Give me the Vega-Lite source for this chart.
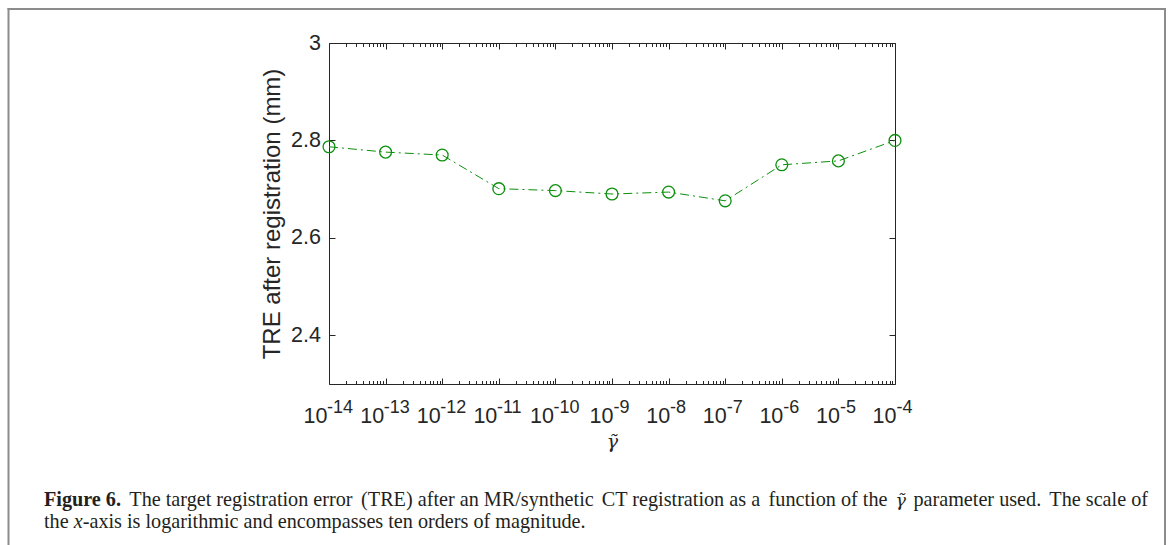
{
  "$schema": "https://vega.github.io/schema/vega-lite/v6.json",
  "width": 566,
  "height": 341,
  "autosize": {"type": "none"},
  "padding": {"left": 329, "top": 43, "right": 276, "bottom": 161},
  "background": "white",
  "config": {
    "view": {"stroke": "#262626", "strokeWidth": 1},
    "axis": {
      "grid": false,
      "domain": false,
      "labelColor": "#262626",
      "titleColor": "#262626",
      "tickColor": "#262626",
      "tickWidth": 1,
      "labelFont": "Liberation Sans",
      "titleFont": "Liberation Sans",
      "labelFlush": false,
      "labelOverlap": false,
      "labelBound": false
    },
    "text": {"font": "Liberation Serif", "fontSize": 20.2, "color": "#231f20", "align": "left", "baseline": "alphabetic"}
  },
  "data": {
    "values": [
      {"gamma": 1e-14, "tre": 2.787},
      {"gamma": 1e-13, "tre": 2.776},
      {"gamma": 1e-12, "tre": 2.770},
      {"gamma": 1e-11, "tre": 2.701},
      {"gamma": 1e-10, "tre": 2.697},
      {"gamma": 1e-9, "tre": 2.690},
      {"gamma": 1e-8, "tre": 2.694},
      {"gamma": 1e-7, "tre": 2.676},
      {"gamma": 1e-6, "tre": 2.750},
      {"gamma": 1e-5, "tre": 2.758},
      {"gamma": 1e-4, "tre": 2.800}
    ]
  },
  "layer": [
    {
      "mark": {"type": "line", "color": "#0c8f0c", "strokeWidth": 1, "strokeDash": [9, 4, 2, 4]},
      "encoding": {
        "x": {
          "field": "gamma", "type": "quantitative",
          "scale": {"type": "log", "domain": [1e-14, 1e-4], "nice": false},
          "axis": {
            "orient": "bottom",
            "values": [1e-14, 1e-13, 1e-12, 1e-11, 1e-10, 1e-9, 1e-8, 1e-7, 1e-6, 1e-5, 1e-4],
            "labelExpr": "'10'",
            "ticks": false, "tickSize": 0,
            "labelFontSize": 21.5,
            "labelAlign": "right",
            "labelBaseline": "alphabetic",
            "labelPadding": 38,
            "labelOffset": {"condition": {"test": "datum.value < 5e-10", "value": -2}, "value": 1},
            "title": "γ̃",
            "titleFont": "DejaVu Serif",
            "titleFontStyle": "italic",
            "titleFontWeight": "normal",
            "titleFontSize": 19,
            "titleX": 283,
            "titleY": 63,
            "titleBaseline": "alphabetic",
            "titleAlign": "center"
          }
        },
        "y": {
          "field": "tre", "type": "quantitative",
          "scale": {"domain": [2.3, 3], "nice": false, "zero": false},
          "axis": {
            "orient": "left",
            "values": [2.4, 2.6, 2.8, 3],
            "format": "~g",
            "ticks": false, "tickSize": 0,
            "labelFontSize": 21.5,
            "labelPadding": 8.5,
            "labelBaseline": "middle",
            "title": "TRE after registration (mm)",
            "titleFontSize": 24,
            "titleFontWeight": "normal",
            "titleAngle": 270,
            "titleX": -50,
            "titleY": 170.5,
            "titleBaseline": "alphabetic",
            "titleAlign": "center"
          }
        }
      }
    },
    {
      "mark": {"type": "point", "shape": "circle", "filled": false, "size": 140, "strokeWidth": 1.3, "color": "#0c8f0c", "opacity": 1},
      "encoding": {
        "x": {
          "field": "gamma", "type": "quantitative",
          "scale": {"type": "log", "domain": [1e-14, 1e-4], "nice": false},
          "axis": {
            "orient": "bottom",
            "values": [1e-14, 1e-13, 1e-12, 1e-11, 1e-10, 1e-9, 1e-8, 1e-7, 1e-6, 1e-5, 1e-4],
            "labelExpr": "'-' + round(-log(datum.value)/LN10)",
            "ticks": false, "tickSize": 0,
            "labelFontSize": 18,
            "labelAlign": "left",
            "labelBaseline": "alphabetic",
            "labelPadding": 28.4,
            "labelOffset": {"condition": {"test": "datum.value < 5e-10", "value": -2.4}, "value": 1},
            "title": null
          }
        },
        "y": {
          "field": "tre", "type": "quantitative",
          "scale": {"domain": [2.3, 3], "nice": false, "zero": false},
          "axis": {"orient": "left", "values": [2.4, 2.6, 2.8, 3], "labels": false, "tickSize": -6, "title": null}
        }
      }
    },
    {
      "mark": {"type": "point", "opacity": 0},
      "encoding": {
        "x": {
          "field": "gamma", "type": "quantitative",
          "scale": {"type": "log", "domain": [1e-14, 1e-4], "nice": false},
          "axis": {"orient": "bottom", "values": [1e-14, 1e-13, 1e-12, 1e-11, 1e-10, 1e-9, 1e-8, 1e-7, 1e-6, 1e-5, 1e-4], "labels": false, "tickSize": -6, "title": null}
        },
        "y": {
          "field": "tre", "type": "quantitative",
          "scale": {"domain": [2.3, 3], "nice": false, "zero": false},
          "axis": {"orient": "right", "values": [2.4, 2.6, 2.8, 3], "labels": false, "tickSize": -6, "title": null}
        }
      }
    },
    {
      "mark": {"type": "point", "opacity": 0},
      "encoding": {
        "x": {
          "field": "gamma", "type": "quantitative",
          "scale": {"type": "log", "domain": [1e-14, 1e-4], "nice": false},
          "axis": {"orient": "bottom", "values": [2e-14,3e-14,4e-14,5e-14,6e-14,7e-14,8e-14,9e-14,2e-13,3e-13,4e-13,5e-13,6e-13,7e-13,8e-13,9e-13,2e-12,3e-12,4e-12,5e-12,6e-12,7e-12,8e-12,9e-12,2e-11,3e-11,4e-11,5e-11,6e-11,7e-11,8e-11,9e-11,2e-10,3e-10,4e-10,5e-10,6e-10,7e-10,8e-10,9e-10,2e-9,3e-9,4e-9,5e-9,6e-9,7e-9,8e-9,9e-9,2e-8,3e-8,4e-8,5e-8,6e-8,7e-8,8e-8,9e-8,2e-7,3e-7,4e-7,5e-7,6e-7,7e-7,8e-7,9e-7,2e-6,3e-6,4e-6,5e-6,6e-6,7e-6,8e-6,9e-6,2e-5,3e-5,4e-5,5e-5,6e-5,7e-5,8e-5,9e-5], "labels": false, "tickSize": -3.5, "title": null}
        },
        "y": {"field": "tre", "type": "quantitative", "scale": {"domain": [2.3, 3], "nice": false, "zero": false}, "axis": null}
      }
    },
    {
      "mark": {"type": "point", "opacity": 0},
      "encoding": {
        "x": {
          "field": "gamma", "type": "quantitative",
          "scale": {"type": "log", "domain": [1e-14, 1e-4], "nice": false},
          "axis": {"orient": "top", "values": [1e-14, 1e-13, 1e-12, 1e-11, 1e-10, 1e-9, 1e-8, 1e-7, 1e-6, 1e-5, 1e-4], "labels": false, "tickSize": -6, "title": null}
        },
        "y": {"field": "tre", "type": "quantitative", "scale": {"domain": [2.3, 3], "nice": false, "zero": false}, "axis": null}
      }
    },
    {
      "mark": {"type": "point", "opacity": 0},
      "encoding": {
        "x": {
          "field": "gamma", "type": "quantitative",
          "scale": {"type": "log", "domain": [1e-14, 1e-4], "nice": false},
          "axis": {"orient": "top", "values": [2e-14,3e-14,4e-14,5e-14,6e-14,7e-14,8e-14,9e-14,2e-13,3e-13,4e-13,5e-13,6e-13,7e-13,8e-13,9e-13,2e-12,3e-12,4e-12,5e-12,6e-12,7e-12,8e-12,9e-12,2e-11,3e-11,4e-11,5e-11,6e-11,7e-11,8e-11,9e-11,2e-10,3e-10,4e-10,5e-10,6e-10,7e-10,8e-10,9e-10,2e-9,3e-9,4e-9,5e-9,6e-9,7e-9,8e-9,9e-9,2e-8,3e-8,4e-8,5e-8,6e-8,7e-8,8e-8,9e-8,2e-7,3e-7,4e-7,5e-7,6e-7,7e-7,8e-7,9e-7,2e-6,3e-6,4e-6,5e-6,6e-6,7e-6,8e-6,9e-6,2e-5,3e-5,4e-5,5e-5,6e-5,7e-5,8e-5,9e-5], "labels": false, "tickSize": -3.5, "title": null}
        },
        "y": {"field": "tre", "type": "quantitative", "scale": {"domain": [2.3, 3], "nice": false, "zero": false}, "axis": null}
      }
    },
    {
      "data": {"values": [{}]},
      "mark": {"type": "rule", "stroke": "#8c8c8c", "strokeWidth": 2},
      "encoding": {"x": {"value": -321.5}, "x2": {"value": 837}, "y": {"value": -34}}
    },
    {
      "data": {"values": [{}]},
      "mark": {"type": "rule", "stroke": "#8c8c8c", "strokeWidth": 2},
      "encoding": {"x": {"value": -320.5}, "y": {"value": -35}, "y2": {"value": 510}}
    },
    {
      "data": {"values": [{}]},
      "mark": {"type": "rule", "stroke": "#8c8c8c", "strokeWidth": 2},
      "encoding": {"x": {"value": 836}, "y": {"value": -35}, "y2": {"value": 510}}
    },
    {
      "data": {"values": [{}]},
      "mark": {"type": "text", "fontWeight": "bold"},
      "encoding": {"text": {"value": "Figure 6."}, "x": {"value": -285}, "y": {"value": 463}}
    },
    {
      "data": {"values": [{}]},
      "mark": {"type": "text"},
      "encoding": {"text": {"value": "The target registration error"}, "x": {"value": -199.7}, "y": {"value": 463}}
    },
    {
      "data": {"values": [{}]},
      "mark": {"type": "text"},
      "encoding": {"text": {"value": "(TRE) after an MR/synthetic"}, "x": {"value": 32.1}, "y": {"value": 463}}
    },
    {
      "data": {"values": [{}]},
      "mark": {"type": "text"},
      "encoding": {"text": {"value": "CT registration as a"}, "x": {"value": 272.8}, "y": {"value": 463}}
    },
    {
      "data": {"values": [{}]},
      "mark": {"type": "text"},
      "encoding": {"text": {"value": "function of the"}, "x": {"value": 439.6}, "y": {"value": 463}}
    },
    {
      "data": {"values": [{}]},
      "mark": {"type": "text", "font": "DejaVu Serif", "fontSize": 17.5, "fontStyle": "italic"},
      "encoding": {"text": {"value": "γ̃"}, "x": {"value": 566.5}, "y": {"value": 463}}
    },
    {
      "data": {"values": [{}]},
      "mark": {"type": "text"},
      "encoding": {"text": {"value": "parameter used."}, "x": {"value": 584.4}, "y": {"value": 463}}
    },
    {
      "data": {"values": [{}]},
      "mark": {"type": "text", "align": "right"},
      "encoding": {"text": {"value": "The scale of"}, "x": {"value": 819}, "y": {"value": 463}}
    },
    {
      "data": {"values": [{}]},
      "mark": {"type": "text"},
      "encoding": {"text": {"value": "the"}, "x": {"value": -285}, "y": {"value": 485.3}}
    },
    {
      "data": {"values": [{}]},
      "mark": {"type": "text", "fontStyle": "italic"},
      "encoding": {"text": {"value": "x"}, "x": {"value": -255.3}, "y": {"value": 485.3}}
    },
    {
      "data": {"values": [{}]},
      "mark": {"type": "text"},
      "encoding": {"text": {"value": "-axis is logarithmic and encompasses ten orders of magnitude."}, "x": {"value": -246.3}, "y": {"value": 485.3}}
    }
  ],
  "resolve": {"axis": {"x": "independent", "y": "independent"}}
}
